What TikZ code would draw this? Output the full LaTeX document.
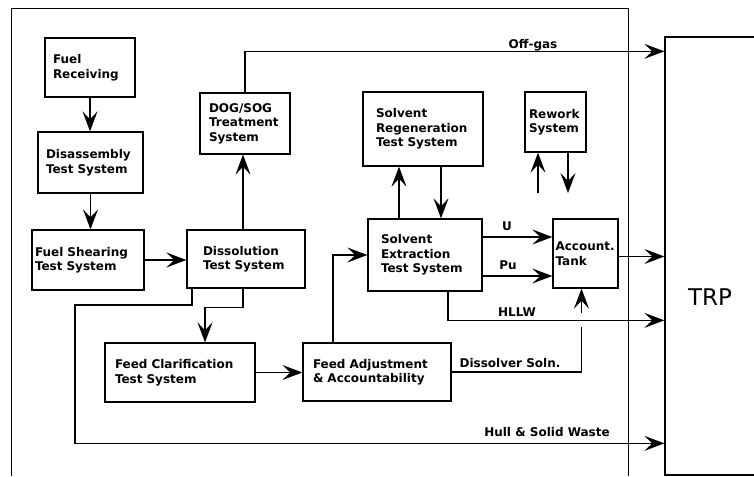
\documentclass[tikz,border=0pt]{standalone}
\usepackage{fontspec}
\setmainfont{DejaVu Sans}
\usepackage{tikz}
\usetikzlibrary{positioning, arrows.meta}

\tikzset{
  blk/.style={draw, line width=1.3pt, align=left, inner xsep=8pt, inner ysep=2pt,
    font=\bfseries\fontsize{12}{14.5}\selectfont},
  flow/.style={line width=1.3pt, -{Stealth[length=20pt, width=15pt, inset=8pt]}},
  lbl/.style={font=\bfseries\fontsize{12}{14}\selectfont, inner sep=1pt},
}

\begin{document}
\begin{tikzpicture}[x=1pt, y=-1pt]
  \useasboundingbox (0,0) rectangle (754,476);

  % outer frame of the test facility
  \draw[line width=1pt] (11,476) -- (11,9) -- (628,9) -- (628,476);

  % process blocks
  \node[blk, text width=74pt, minimum height=59pt] (recv) at (90,67.5) {Fuel\\Receiving};
  \node[blk, text width=89pt, minimum height=61pt] (disasm) at (90.5,162.5) {Disassembly\\Test System};
  \node[blk, inner xsep=3pt, text width=106pt, minimum height=60pt] (shear) at (88,260) {Fuel Shearing\\Test System};
  \node[blk, inner xsep=16pt, text width=86pt, minimum height=58pt] (dissol) at (246,259) {Dissolution\\Test System};
  \node[blk, inner xsep=9pt, text width=72pt, minimum height=61pt] (dogsog) at (245,123.5) {DOG/SOG\\Treatment\\System};
  \node[blk, inner xsep=13pt, text width=94pt, minimum height=74pt] (solreg) at (423,129) {Solvent\\Regeneration\\Test System};
  \node[blk, inner xsep=4pt, text width=53pt, minimum height=60pt] (rework) at (555.5,122) {Rework\\System};
  \node[blk, inner xsep=13pt, text width=88pt, minimum height=72pt] (solext) at (425,255) {Solvent\\Extraction\\Test System};
  \node[blk, inner xsep=2.5pt, text width=60pt, minimum height=69pt] (tank) at (585.5,253.5) {Account.\\Tank};
  \node[blk, inner xsep=10pt, text width=130pt, minimum height=59pt] (clarif) at (180,372.5) {Feed Clarification\\Test System};
  \node[blk, inner xsep=10pt, text width=128pt, minimum height=58pt] (adjust) at (377,372) {Feed Adjustment\\\& Accountability};

  % receiving plant
  \node[draw, line width=1.3pt, minimum width=92pt, minimum height=438pt, inner sep=0pt] (trp) at (711,256) {};
  \node[font=\fontsize{23}{26}\selectfont] (trplbl) at (710,297) {TRP};

  % free ends
  \coordinate (rwin) at (538,193);
  \coordinate (rwout) at (568,193);
  \coordinate (hullbend) at (75,305);

  % flows
  \draw[flow] (recv.south) -- (recv.south |- disasm.north);
  \draw[flow] (disasm.south) -- (disasm.south |- shear.north);
  \draw[flow] (shear.east) -- (shear.east -| dissol.west);
  \draw[flow] ([xshift=-3pt]dissol.north) -- ([xshift=-3pt]dissol.north |- dogsog.south);
  \draw[flow] (dogsog.north) |- ([yshift=-15pt]trp.north west);
  \draw[flow] ([xshift=-3pt]dissol.south) -- ++(0,19) -| ([xshift=25pt]clarif.north);
  \draw[flow] ([xshift=-54pt]dissol.south) |- (hullbend) |- ([yshift=-407pt]trp.north west);
  \draw[flow] (clarif.east) -- (clarif.east -| adjust.west);
  \draw[flow] ([xshift=-44pt]adjust.north) |- (solext.west);
  \draw[flow] ([xshift=-26pt]solext.north) -- ([xshift=-26pt]solext.north |- solreg.south);
  \draw[flow] ([xshift=18pt]solreg.south) -- ([xshift=18pt]solreg.south |- solext.north);
  \draw[flow] (rwin) -- (rwin |- rework.south);
  \draw[flow] (rwout |- rework.south) -- (rwout);
  \draw[flow] ([yshift=18pt]solext.east) -- ([yshift=18pt]solext.east -| tank.west);
  \draw[flow] ([yshift=-21pt]solext.east) -- ([yshift=-21pt]solext.east -| tank.west);
  \draw[flow] ([yshift=-3pt]tank.east) -- ([yshift=-3pt]tank.east -| trp.west);
  \draw[flow] (adjust.east) -| ([xshift=-4pt]tank.south);
  \fill[white] (577,313) rectangle (586,327);
  \draw[flow] ([xshift=23pt]solext.south) |- ([yshift=-284pt]trp.north west);

  % stream labels
  \node[lbl] (lgas) at (533,45) {Off-gas};
  \node[lbl] (lu) at (507,226) {U};
  \node[lbl] (lpu) at (508,265) {Pu};
  \node[lbl] (lhllw) at (517,312) {HLLW};
  \node[lbl] (lsoln) at (510,363) {Dissolver Soln.};
  \node[lbl] (lhull) at (547,432) {Hull \& Solid Waste};
\end{tikzpicture}
\end{document}
